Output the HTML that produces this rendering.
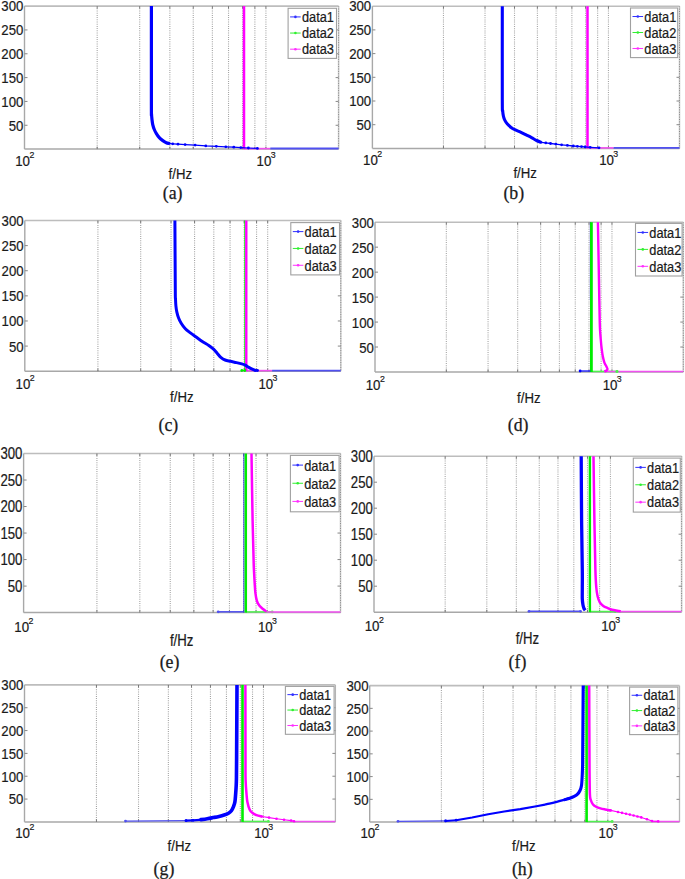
<!DOCTYPE html><html><head><meta charset="utf-8"><style>html,body{margin:0;padding:0;background:#fff;}svg{display:block;}text{font-family:"Liberation Sans",sans-serif;fill:#1a1a1a;stroke:#1a1a1a;stroke-width:0.18px;}.cap{font-family:"Liberation Serif",serif;stroke-width:0.25px;}</style></head><body>
<svg width="685" height="879" viewBox="0 0 685 879">
<rect x="0" y="0" width="685" height="879" fill="#fff"/>
<g><line x1="97.18" y1="6.10" x2="97.18" y2="149.10" stroke="#a4a4a4" stroke-width="1.1" stroke-dasharray="1 1.2"/><line x1="139.69" y1="6.10" x2="139.69" y2="149.10" stroke="#a4a4a4" stroke-width="1.1" stroke-dasharray="1 1.2"/><line x1="169.85" y1="6.10" x2="169.85" y2="149.10" stroke="#a4a4a4" stroke-width="1.1" stroke-dasharray="1 1.2"/><line x1="193.25" y1="6.10" x2="193.25" y2="149.10" stroke="#a4a4a4" stroke-width="1.1" stroke-dasharray="1 1.2"/><line x1="212.36" y1="6.10" x2="212.36" y2="149.10" stroke="#a4a4a4" stroke-width="1.1" stroke-dasharray="1 1.2"/><line x1="228.53" y1="6.10" x2="228.53" y2="149.10" stroke="#a4a4a4" stroke-width="1.1" stroke-dasharray="1 1.2"/><line x1="242.53" y1="6.10" x2="242.53" y2="149.10" stroke="#a4a4a4" stroke-width="1.1" stroke-dasharray="1 1.2"/><line x1="254.88" y1="6.10" x2="254.88" y2="149.10" stroke="#a4a4a4" stroke-width="1.1" stroke-dasharray="1 1.2"/><line x1="265.92" y1="6.10" x2="265.92" y2="149.10" stroke="#a4a4a4" stroke-width="1.1" stroke-dasharray="1 1.2"/><line x1="338.60" y1="6.10" x2="338.60" y2="149.10" stroke="#d0d0d0" stroke-width="1.6"/><line x1="338.60" y1="6.10" x2="338.60" y2="149.10" stroke="#888" stroke-width="1" stroke-dasharray="1 1.4"/><line x1="24.50" y1="6.10" x2="338.60" y2="6.10" stroke="#bdbdbd" stroke-width="1.6"/><line x1="24.50" y1="6.10" x2="24.50" y2="149.10" stroke="#a8a8a8" stroke-width="1.4"/><line x1="24.50" y1="149.10" x2="338.60" y2="149.10" stroke="#a8a8a8" stroke-width="1.5"/><line x1="24.50" y1="125.27" x2="27.50" y2="125.27" stroke="#888" stroke-width="1"/><line x1="335.60" y1="125.27" x2="338.60" y2="125.27" stroke="#888" stroke-width="1"/><line x1="24.50" y1="101.43" x2="27.50" y2="101.43" stroke="#888" stroke-width="1"/><line x1="335.60" y1="101.43" x2="338.60" y2="101.43" stroke="#888" stroke-width="1"/><line x1="24.50" y1="77.60" x2="27.50" y2="77.60" stroke="#888" stroke-width="1"/><line x1="335.60" y1="77.60" x2="338.60" y2="77.60" stroke="#888" stroke-width="1"/><line x1="24.50" y1="53.77" x2="27.50" y2="53.77" stroke="#888" stroke-width="1"/><line x1="335.60" y1="53.77" x2="338.60" y2="53.77" stroke="#888" stroke-width="1"/><line x1="24.50" y1="29.93" x2="27.50" y2="29.93" stroke="#888" stroke-width="1"/><line x1="335.60" y1="29.93" x2="338.60" y2="29.93" stroke="#888" stroke-width="1"/><line x1="97.18" y1="6.10" x2="97.18" y2="8.60" stroke="#777" stroke-width="1"/><line x1="97.18" y1="146.60" x2="97.18" y2="149.10" stroke="#777" stroke-width="1"/><line x1="139.69" y1="6.10" x2="139.69" y2="8.60" stroke="#777" stroke-width="1"/><line x1="139.69" y1="146.60" x2="139.69" y2="149.10" stroke="#777" stroke-width="1"/><line x1="169.85" y1="6.10" x2="169.85" y2="8.60" stroke="#777" stroke-width="1"/><line x1="169.85" y1="146.60" x2="169.85" y2="149.10" stroke="#777" stroke-width="1"/><line x1="193.25" y1="6.10" x2="193.25" y2="8.60" stroke="#777" stroke-width="1"/><line x1="193.25" y1="146.60" x2="193.25" y2="149.10" stroke="#777" stroke-width="1"/><line x1="212.36" y1="6.10" x2="212.36" y2="8.60" stroke="#777" stroke-width="1"/><line x1="212.36" y1="146.60" x2="212.36" y2="149.10" stroke="#777" stroke-width="1"/><line x1="228.53" y1="6.10" x2="228.53" y2="8.60" stroke="#777" stroke-width="1"/><line x1="228.53" y1="146.60" x2="228.53" y2="149.10" stroke="#777" stroke-width="1"/><line x1="242.53" y1="6.10" x2="242.53" y2="8.60" stroke="#777" stroke-width="1"/><line x1="242.53" y1="146.60" x2="242.53" y2="149.10" stroke="#777" stroke-width="1"/><line x1="254.88" y1="6.10" x2="254.88" y2="8.60" stroke="#777" stroke-width="1"/><line x1="254.88" y1="146.60" x2="254.88" y2="149.10" stroke="#777" stroke-width="1"/><line x1="265.92" y1="6.10" x2="265.92" y2="8.60" stroke="#777" stroke-width="1"/><line x1="265.92" y1="146.60" x2="265.92" y2="149.10" stroke="#777" stroke-width="1"/><text transform="translate(23.30,130.56) scale(1,1.12)" font-size="13.2" text-anchor="end">50</text><text transform="translate(23.30,106.73) scale(1,1.12)" font-size="13.2" text-anchor="end">100</text><text transform="translate(23.30,82.89) scale(1,1.12)" font-size="13.2" text-anchor="end">150</text><text transform="translate(23.30,59.06) scale(1,1.12)" font-size="13.2" text-anchor="end">200</text><text transform="translate(23.30,35.23) scale(1,1.12)" font-size="13.2" text-anchor="end">250</text><text transform="translate(23.30,11.39) scale(1,1.12)" font-size="13.2" text-anchor="end">300</text><text transform="translate(15.20,166.40) scale(1,1.08)" font-size="13.3">10</text><text transform="translate(29.40,158.40) scale(1,1.0)" font-size="8.8">2</text><text transform="translate(256.62,166.40) scale(1,1.08)" font-size="13.3">10</text><text transform="translate(270.82,158.40) scale(1,1.0)" font-size="8.8">3</text><text transform="translate(168.60,178.80) scale(1,1.12)" font-size="13.2">f/Hz</text><text transform="translate(162.80,199.40) scale(1,1.0)" font-size="17.8" class="cap">(a)</text><path d="M244.00,148.60 L270.30,148.60" fill="none" stroke="#f050f0" stroke-width="1.6" stroke-linejoin="round" stroke-linecap="butt"/><path d="M270.30,148.50 L338.60,148.50" fill="none" stroke="#5050f0" stroke-width="1.8" stroke-linejoin="round" stroke-linecap="butt"/><path d="M244.00,6.10 L244.00,149.10" fill="none" stroke="#ff00ff" stroke-width="2.5" stroke-linejoin="round" stroke-linecap="butt"/><path d="M151.40,6.10 C151.40,22.58 151.38,87.05 151.40,105.00 C151.42,122.95 151.40,111.37 151.50,113.80 C151.60,116.23 151.78,117.75 152.00,119.60 C152.22,121.45 152.42,123.25 152.80,124.90 C153.18,126.55 153.70,128.05 154.30,129.50 C154.90,130.95 155.57,132.23 156.40,133.60 C157.23,134.97 158.23,136.53 159.30,137.70 C160.37,138.87 161.63,139.77 162.80,140.60 C163.97,141.43 165.23,142.22 166.30,142.70 C167.37,143.18 168.72,143.37 169.20,143.50" fill="none" stroke="#0000ff" stroke-width="3.2" stroke-linejoin="round" stroke-linecap="butt"/><path d="M169.20,143.50 L172.70,143.80 L178.00,144.20 L185.10,144.60 L195.10,145.10 L205.80,145.90 L216.30,146.30 L225.80,146.80 L233.80,147.20 L240.80,147.60 L248.40,148.00 L257.40,148.40" fill="none" stroke="#0000ff" stroke-width="1.2" stroke-linejoin="round" stroke-linecap="butt"/><circle cx="169.20" cy="143.50" r="1.4" fill="#0000ff"/><circle cx="172.70" cy="143.80" r="1.4" fill="#0000ff"/><circle cx="178.00" cy="144.20" r="1.4" fill="#0000ff"/><circle cx="185.10" cy="144.60" r="1.4" fill="#0000ff"/><circle cx="195.10" cy="145.10" r="1.4" fill="#0000ff"/><circle cx="205.80" cy="145.90" r="1.4" fill="#0000ff"/><circle cx="216.30" cy="146.30" r="1.4" fill="#0000ff"/><circle cx="225.80" cy="146.80" r="1.4" fill="#0000ff"/><circle cx="233.80" cy="147.20" r="1.4" fill="#0000ff"/><circle cx="240.80" cy="147.60" r="1.4" fill="#0000ff"/><circle cx="248.40" cy="148.00" r="1.4" fill="#0000ff"/><circle cx="257.40" cy="148.40" r="1.4" fill="#0000ff"/><rect x="288.10" y="8.30" width="48.40" height="50.10" fill="#fff" stroke="#a0a0a0" stroke-width="1.1"/><line x1="290.10" y1="16.92" x2="300.70" y2="16.92" stroke="#3030ff" stroke-width="1"/><circle cx="295.40" cy="16.92" r="1.3" fill="#3030ff"/><text transform="translate(301.90,21.96) scale(1,1.12)" font-size="12.8">data1</text><line x1="290.10" y1="33.05" x2="300.70" y2="33.05" stroke="#30f030" stroke-width="1"/><circle cx="295.40" cy="33.05" r="1.3" fill="#30f030"/><text transform="translate(301.90,38.09) scale(1,1.12)" font-size="12.8">data2</text><line x1="290.10" y1="49.18" x2="300.70" y2="49.18" stroke="#ff30ff" stroke-width="1"/><circle cx="295.40" cy="49.18" r="1.3" fill="#ff30ff"/><text transform="translate(301.90,54.22) scale(1,1.12)" font-size="12.8">data3</text></g>
<g><line x1="443.46" y1="6.20" x2="443.46" y2="148.40" stroke="#a4a4a4" stroke-width="1.1" stroke-dasharray="1 1.2"/><line x1="485.02" y1="6.20" x2="485.02" y2="148.40" stroke="#a4a4a4" stroke-width="1.1" stroke-dasharray="1 1.2"/><line x1="514.51" y1="6.20" x2="514.51" y2="148.40" stroke="#a4a4a4" stroke-width="1.1" stroke-dasharray="1 1.2"/><line x1="537.39" y1="6.20" x2="537.39" y2="148.40" stroke="#a4a4a4" stroke-width="1.1" stroke-dasharray="1 1.2"/><line x1="556.08" y1="6.20" x2="556.08" y2="148.40" stroke="#a4a4a4" stroke-width="1.1" stroke-dasharray="1 1.2"/><line x1="571.88" y1="6.20" x2="571.88" y2="148.40" stroke="#a4a4a4" stroke-width="1.1" stroke-dasharray="1 1.2"/><line x1="585.57" y1="6.20" x2="585.57" y2="148.40" stroke="#a4a4a4" stroke-width="1.1" stroke-dasharray="1 1.2"/><line x1="597.64" y1="6.20" x2="597.64" y2="148.40" stroke="#a4a4a4" stroke-width="1.1" stroke-dasharray="1 1.2"/><line x1="608.44" y1="6.20" x2="608.44" y2="148.40" stroke="#a4a4a4" stroke-width="1.1" stroke-dasharray="1 1.2"/><line x1="679.50" y1="6.20" x2="679.50" y2="148.40" stroke="#d0d0d0" stroke-width="1.6"/><line x1="679.50" y1="6.20" x2="679.50" y2="148.40" stroke="#888" stroke-width="1" stroke-dasharray="1 1.4"/><line x1="372.40" y1="6.20" x2="679.50" y2="6.20" stroke="#bdbdbd" stroke-width="1.6"/><line x1="372.40" y1="6.20" x2="372.40" y2="148.40" stroke="#a8a8a8" stroke-width="1.4"/><line x1="372.40" y1="148.40" x2="679.50" y2="148.40" stroke="#a8a8a8" stroke-width="1.5"/><line x1="372.40" y1="124.70" x2="375.40" y2="124.70" stroke="#888" stroke-width="1"/><line x1="676.50" y1="124.70" x2="679.50" y2="124.70" stroke="#888" stroke-width="1"/><line x1="372.40" y1="101.00" x2="375.40" y2="101.00" stroke="#888" stroke-width="1"/><line x1="676.50" y1="101.00" x2="679.50" y2="101.00" stroke="#888" stroke-width="1"/><line x1="372.40" y1="77.30" x2="375.40" y2="77.30" stroke="#888" stroke-width="1"/><line x1="676.50" y1="77.30" x2="679.50" y2="77.30" stroke="#888" stroke-width="1"/><line x1="372.40" y1="53.60" x2="375.40" y2="53.60" stroke="#888" stroke-width="1"/><line x1="676.50" y1="53.60" x2="679.50" y2="53.60" stroke="#888" stroke-width="1"/><line x1="372.40" y1="29.90" x2="375.40" y2="29.90" stroke="#888" stroke-width="1"/><line x1="676.50" y1="29.90" x2="679.50" y2="29.90" stroke="#888" stroke-width="1"/><line x1="443.46" y1="6.20" x2="443.46" y2="8.70" stroke="#777" stroke-width="1"/><line x1="443.46" y1="145.90" x2="443.46" y2="148.40" stroke="#777" stroke-width="1"/><line x1="485.02" y1="6.20" x2="485.02" y2="8.70" stroke="#777" stroke-width="1"/><line x1="485.02" y1="145.90" x2="485.02" y2="148.40" stroke="#777" stroke-width="1"/><line x1="514.51" y1="6.20" x2="514.51" y2="8.70" stroke="#777" stroke-width="1"/><line x1="514.51" y1="145.90" x2="514.51" y2="148.40" stroke="#777" stroke-width="1"/><line x1="537.39" y1="6.20" x2="537.39" y2="8.70" stroke="#777" stroke-width="1"/><line x1="537.39" y1="145.90" x2="537.39" y2="148.40" stroke="#777" stroke-width="1"/><line x1="556.08" y1="6.20" x2="556.08" y2="8.70" stroke="#777" stroke-width="1"/><line x1="556.08" y1="145.90" x2="556.08" y2="148.40" stroke="#777" stroke-width="1"/><line x1="571.88" y1="6.20" x2="571.88" y2="8.70" stroke="#777" stroke-width="1"/><line x1="571.88" y1="145.90" x2="571.88" y2="148.40" stroke="#777" stroke-width="1"/><line x1="585.57" y1="6.20" x2="585.57" y2="8.70" stroke="#777" stroke-width="1"/><line x1="585.57" y1="145.90" x2="585.57" y2="148.40" stroke="#777" stroke-width="1"/><line x1="597.64" y1="6.20" x2="597.64" y2="8.70" stroke="#777" stroke-width="1"/><line x1="597.64" y1="145.90" x2="597.64" y2="148.40" stroke="#777" stroke-width="1"/><line x1="608.44" y1="6.20" x2="608.44" y2="8.70" stroke="#777" stroke-width="1"/><line x1="608.44" y1="145.90" x2="608.44" y2="148.40" stroke="#777" stroke-width="1"/><text transform="translate(371.20,129.99) scale(1,1.12)" font-size="13.2" text-anchor="end">50</text><text transform="translate(371.20,106.29) scale(1,1.12)" font-size="13.2" text-anchor="end">100</text><text transform="translate(371.20,82.59) scale(1,1.12)" font-size="13.2" text-anchor="end">150</text><text transform="translate(371.20,58.89) scale(1,1.12)" font-size="13.2" text-anchor="end">200</text><text transform="translate(371.20,35.19) scale(1,1.12)" font-size="13.2" text-anchor="end">250</text><text transform="translate(371.20,11.49) scale(1,1.12)" font-size="13.2" text-anchor="end">300</text><text transform="translate(363.10,165.30) scale(1,1.08)" font-size="13.3">10</text><text transform="translate(377.30,157.30) scale(1,1.0)" font-size="8.8">2</text><text transform="translate(599.14,165.30) scale(1,1.08)" font-size="13.3">10</text><text transform="translate(613.34,157.30) scale(1,1.0)" font-size="8.8">3</text><text transform="translate(513.40,177.90) scale(1,1.12)" font-size="13.2">f/Hz</text><text transform="translate(503.40,199.40) scale(1,1.0)" font-size="17.8" class="cap">(b)</text><path d="M587.50,147.90 L613.60,147.90" fill="none" stroke="#f050f0" stroke-width="1.6" stroke-linejoin="round" stroke-linecap="butt"/><path d="M613.60,147.80 L679.50,147.80" fill="none" stroke="#5050f0" stroke-width="1.8" stroke-linejoin="round" stroke-linecap="butt"/><path d="M587.50,6.20 L587.50,148.40" fill="none" stroke="#ff00ff" stroke-width="2.5" stroke-linejoin="round" stroke-linecap="butt"/><path d="M502.30,6.20 C502.30,21.83 502.23,82.55 502.30,100.00 C502.37,117.45 502.52,108.22 502.70,110.90 C502.88,113.58 503.03,114.52 503.40,116.10 C503.77,117.68 504.23,119.07 504.90,120.40 C505.57,121.73 506.37,122.93 507.40,124.10 C508.43,125.27 509.77,126.43 511.10,127.40 C512.43,128.37 513.83,129.12 515.40,129.90 C516.97,130.68 518.78,131.30 520.50,132.10 C522.22,132.90 523.87,133.78 525.70,134.70 C527.53,135.62 529.68,136.63 531.50,137.60 C533.32,138.57 535.02,139.72 536.60,140.50 C538.18,141.28 540.27,142.00 541.00,142.30" fill="none" stroke="#0000ff" stroke-width="3.1" stroke-linejoin="round" stroke-linecap="butt"/><path d="M541.00,142.30 L545.80,142.90 L550.50,143.50 L555.80,144.10 L561.60,144.80 L567.40,145.40 L573.30,146.00 L577.40,146.30 L581.50,146.60 L585.00,146.90 L590.20,147.30 L599.00,147.80" fill="none" stroke="#0000ff" stroke-width="1.3" stroke-linejoin="round" stroke-linecap="butt"/><circle cx="541.00" cy="142.30" r="1.4" fill="#0000ff"/><circle cx="545.80" cy="142.90" r="1.4" fill="#0000ff"/><circle cx="550.50" cy="143.50" r="1.4" fill="#0000ff"/><circle cx="555.80" cy="144.10" r="1.4" fill="#0000ff"/><circle cx="561.60" cy="144.80" r="1.4" fill="#0000ff"/><circle cx="567.40" cy="145.40" r="1.4" fill="#0000ff"/><circle cx="573.30" cy="146.00" r="1.4" fill="#0000ff"/><circle cx="577.40" cy="146.30" r="1.4" fill="#0000ff"/><circle cx="581.50" cy="146.60" r="1.4" fill="#0000ff"/><circle cx="585.00" cy="146.90" r="1.4" fill="#0000ff"/><circle cx="590.20" cy="147.30" r="1.4" fill="#0000ff"/><circle cx="599.00" cy="147.80" r="1.4" fill="#0000ff"/><rect x="630.50" y="8.00" width="47.20" height="49.60" fill="#fff" stroke="#a0a0a0" stroke-width="1.1"/><line x1="632.50" y1="16.53" x2="643.10" y2="16.53" stroke="#3030ff" stroke-width="1"/><circle cx="637.80" cy="16.53" r="1.3" fill="#3030ff"/><text transform="translate(644.30,21.57) scale(1,1.12)" font-size="12.8">data1</text><line x1="632.50" y1="32.50" x2="643.10" y2="32.50" stroke="#30f030" stroke-width="1"/><circle cx="637.80" cy="32.50" r="1.3" fill="#30f030"/><text transform="translate(644.30,37.54) scale(1,1.12)" font-size="12.8">data2</text><line x1="632.50" y1="48.47" x2="643.10" y2="48.47" stroke="#ff30ff" stroke-width="1"/><circle cx="637.80" cy="48.47" r="1.3" fill="#ff30ff"/><text transform="translate(644.30,53.51) scale(1,1.12)" font-size="12.8">data3</text></g>
<g><line x1="97.92" y1="220.50" x2="97.92" y2="371.20" stroke="#a4a4a4" stroke-width="1.1" stroke-dasharray="1 1.2"/><line x1="140.69" y1="220.50" x2="140.69" y2="371.20" stroke="#a4a4a4" stroke-width="1.1" stroke-dasharray="1 1.2"/><line x1="171.03" y1="220.50" x2="171.03" y2="371.20" stroke="#a4a4a4" stroke-width="1.1" stroke-dasharray="1 1.2"/><line x1="194.57" y1="220.50" x2="194.57" y2="371.20" stroke="#a4a4a4" stroke-width="1.1" stroke-dasharray="1 1.2"/><line x1="213.80" y1="220.50" x2="213.80" y2="371.20" stroke="#a4a4a4" stroke-width="1.1" stroke-dasharray="1 1.2"/><line x1="230.06" y1="220.50" x2="230.06" y2="371.20" stroke="#a4a4a4" stroke-width="1.1" stroke-dasharray="1 1.2"/><line x1="244.15" y1="220.50" x2="244.15" y2="371.20" stroke="#a4a4a4" stroke-width="1.1" stroke-dasharray="1 1.2"/><line x1="256.57" y1="220.50" x2="256.57" y2="371.20" stroke="#a4a4a4" stroke-width="1.1" stroke-dasharray="1 1.2"/><line x1="267.68" y1="220.50" x2="267.68" y2="371.20" stroke="#a4a4a4" stroke-width="1.1" stroke-dasharray="1 1.2"/><line x1="340.80" y1="220.50" x2="340.80" y2="371.20" stroke="#d0d0d0" stroke-width="1.6"/><line x1="340.80" y1="220.50" x2="340.80" y2="371.20" stroke="#888" stroke-width="1" stroke-dasharray="1 1.4"/><line x1="24.80" y1="220.50" x2="340.80" y2="220.50" stroke="#bdbdbd" stroke-width="1.6"/><line x1="24.80" y1="220.50" x2="24.80" y2="371.20" stroke="#a8a8a8" stroke-width="1.4"/><line x1="24.80" y1="371.20" x2="340.80" y2="371.20" stroke="#a8a8a8" stroke-width="1.5"/><line x1="24.80" y1="346.08" x2="27.80" y2="346.08" stroke="#888" stroke-width="1"/><line x1="337.80" y1="346.08" x2="340.80" y2="346.08" stroke="#888" stroke-width="1"/><line x1="24.80" y1="320.97" x2="27.80" y2="320.97" stroke="#888" stroke-width="1"/><line x1="337.80" y1="320.97" x2="340.80" y2="320.97" stroke="#888" stroke-width="1"/><line x1="24.80" y1="295.85" x2="27.80" y2="295.85" stroke="#888" stroke-width="1"/><line x1="337.80" y1="295.85" x2="340.80" y2="295.85" stroke="#888" stroke-width="1"/><line x1="24.80" y1="270.73" x2="27.80" y2="270.73" stroke="#888" stroke-width="1"/><line x1="337.80" y1="270.73" x2="340.80" y2="270.73" stroke="#888" stroke-width="1"/><line x1="24.80" y1="245.62" x2="27.80" y2="245.62" stroke="#888" stroke-width="1"/><line x1="337.80" y1="245.62" x2="340.80" y2="245.62" stroke="#888" stroke-width="1"/><line x1="97.92" y1="220.50" x2="97.92" y2="223.00" stroke="#777" stroke-width="1"/><line x1="97.92" y1="368.70" x2="97.92" y2="371.20" stroke="#777" stroke-width="1"/><line x1="140.69" y1="220.50" x2="140.69" y2="223.00" stroke="#777" stroke-width="1"/><line x1="140.69" y1="368.70" x2="140.69" y2="371.20" stroke="#777" stroke-width="1"/><line x1="171.03" y1="220.50" x2="171.03" y2="223.00" stroke="#777" stroke-width="1"/><line x1="171.03" y1="368.70" x2="171.03" y2="371.20" stroke="#777" stroke-width="1"/><line x1="194.57" y1="220.50" x2="194.57" y2="223.00" stroke="#777" stroke-width="1"/><line x1="194.57" y1="368.70" x2="194.57" y2="371.20" stroke="#777" stroke-width="1"/><line x1="213.80" y1="220.50" x2="213.80" y2="223.00" stroke="#777" stroke-width="1"/><line x1="213.80" y1="368.70" x2="213.80" y2="371.20" stroke="#777" stroke-width="1"/><line x1="230.06" y1="220.50" x2="230.06" y2="223.00" stroke="#777" stroke-width="1"/><line x1="230.06" y1="368.70" x2="230.06" y2="371.20" stroke="#777" stroke-width="1"/><line x1="244.15" y1="220.50" x2="244.15" y2="223.00" stroke="#777" stroke-width="1"/><line x1="244.15" y1="368.70" x2="244.15" y2="371.20" stroke="#777" stroke-width="1"/><line x1="256.57" y1="220.50" x2="256.57" y2="223.00" stroke="#777" stroke-width="1"/><line x1="256.57" y1="368.70" x2="256.57" y2="371.20" stroke="#777" stroke-width="1"/><line x1="267.68" y1="220.50" x2="267.68" y2="223.00" stroke="#777" stroke-width="1"/><line x1="267.68" y1="368.70" x2="267.68" y2="371.20" stroke="#777" stroke-width="1"/><text transform="translate(23.60,351.57) scale(1,1.16)" font-size="13.2" text-anchor="end">50</text><text transform="translate(23.60,326.45) scale(1,1.16)" font-size="13.2" text-anchor="end">100</text><text transform="translate(23.60,301.33) scale(1,1.16)" font-size="13.2" text-anchor="end">150</text><text transform="translate(23.60,276.22) scale(1,1.16)" font-size="13.2" text-anchor="end">200</text><text transform="translate(23.60,251.10) scale(1,1.16)" font-size="13.2" text-anchor="end">250</text><text transform="translate(23.60,225.98) scale(1,1.16)" font-size="13.2" text-anchor="end">300</text><text transform="translate(15.50,389.20) scale(1,1.08)" font-size="13.3">10</text><text transform="translate(29.70,381.20) scale(1,1.0)" font-size="8.8">2</text><text transform="translate(258.38,389.20) scale(1,1.08)" font-size="13.3">10</text><text transform="translate(272.58,381.20) scale(1,1.0)" font-size="8.8">3</text><text transform="translate(170.10,401.90) scale(1,1.16)" font-size="13.2">f/Hz</text><text transform="translate(158.50,431.00) scale(1,1.0)" font-size="17.8" class="cap">(c)</text><path d="M244.80,220.50 L244.80,371.20" fill="none" stroke="#00ee00" stroke-width="1.0" stroke-linejoin="round" stroke-linecap="butt"/><path d="M246.30,370.60 L272.10,370.60" fill="none" stroke="#f050f0" stroke-width="1.6" stroke-linejoin="round" stroke-linecap="butt"/><path d="M272.10,370.60 L340.80,370.60" fill="none" stroke="#5050f0" stroke-width="1.8" stroke-linejoin="round" stroke-linecap="butt"/><path d="M246.30,220.50 L246.30,371.20" fill="none" stroke="#ff00ff" stroke-width="2.4" stroke-linejoin="round" stroke-linecap="butt"/><path d="M174.90,220.50 C174.97,232.08 175.20,276.95 175.30,290.00 C175.40,303.05 175.40,296.17 175.50,298.80 C175.60,301.43 175.68,303.62 175.90,305.80 C176.12,307.98 176.35,309.87 176.80,311.90 C177.25,313.93 177.87,316.10 178.60,318.00 C179.33,319.90 180.12,321.55 181.20,323.30 C182.28,325.05 183.57,326.90 185.10,328.50 C186.63,330.10 188.50,331.43 190.40,332.90 C192.30,334.37 194.45,335.83 196.50,337.30 C198.55,338.77 200.65,340.33 202.70,341.70 C204.75,343.07 206.95,344.22 208.80,345.50 C210.65,346.78 212.38,348.08 213.80,349.40 C215.22,350.72 216.13,352.08 217.30,353.40 C218.47,354.72 219.50,356.20 220.80,357.30 C222.10,358.40 223.50,359.33 225.10,360.00 C226.70,360.67 228.50,360.87 230.40,361.30 C232.30,361.73 234.60,362.17 236.50,362.60 C238.40,363.03 240.33,363.47 241.80,363.90 C243.27,364.33 244.13,364.62 245.30,365.20 C246.47,365.78 247.63,366.73 248.80,367.40 C249.97,368.07 251.13,368.68 252.30,369.20 C253.47,369.72 255.22,370.28 255.80,370.50" fill="none" stroke="#0000ff" stroke-width="3.0" stroke-linejoin="round" stroke-linecap="butt"/><path d="M255.80,370.50 L257.50,370.50" fill="none" stroke="#0000ff" stroke-width="1.2" stroke-linejoin="round" stroke-linecap="butt"/><circle cx="255.80" cy="370.50" r="1.4" fill="#0000ff"/><circle cx="257.50" cy="370.50" r="1.4" fill="#0000ff"/><path d="M241.80,370.50 L244.80,370.50" fill="none" stroke="#00ee00" stroke-width="1.0" stroke-linejoin="round" stroke-linecap="butt"/><circle cx="241.80" cy="370.50" r="1.4" fill="#00ee00"/><circle cx="244.80" cy="370.50" r="1.4" fill="#00ee00"/><rect x="290.80" y="222.60" width="48.70" height="52.30" fill="#fff" stroke="#a0a0a0" stroke-width="1.1"/><line x1="292.80" y1="231.60" x2="303.40" y2="231.60" stroke="#3030ff" stroke-width="1"/><circle cx="298.10" cy="231.60" r="1.3" fill="#3030ff"/><text transform="translate(304.60,236.82) scale(1,1.16)" font-size="12.8">data1</text><line x1="292.80" y1="248.44" x2="303.40" y2="248.44" stroke="#30f030" stroke-width="1"/><circle cx="298.10" cy="248.44" r="1.3" fill="#30f030"/><text transform="translate(304.60,253.66) scale(1,1.16)" font-size="12.8">data2</text><line x1="292.80" y1="265.28" x2="303.40" y2="265.28" stroke="#ff30ff" stroke-width="1"/><circle cx="298.10" cy="265.28" r="1.3" fill="#ff30ff"/><text transform="translate(304.60,270.50) scale(1,1.16)" font-size="12.8">data3</text></g>
<g><line x1="446.33" y1="222.20" x2="446.33" y2="372.00" stroke="#a4a4a4" stroke-width="1.1" stroke-dasharray="1 1.2"/><line x1="488.06" y1="222.20" x2="488.06" y2="372.00" stroke="#a4a4a4" stroke-width="1.1" stroke-dasharray="1 1.2"/><line x1="517.67" y1="222.20" x2="517.67" y2="372.00" stroke="#a4a4a4" stroke-width="1.1" stroke-dasharray="1 1.2"/><line x1="540.63" y1="222.20" x2="540.63" y2="372.00" stroke="#a4a4a4" stroke-width="1.1" stroke-dasharray="1 1.2"/><line x1="559.40" y1="222.20" x2="559.40" y2="372.00" stroke="#a4a4a4" stroke-width="1.1" stroke-dasharray="1 1.2"/><line x1="575.26" y1="222.20" x2="575.26" y2="372.00" stroke="#a4a4a4" stroke-width="1.1" stroke-dasharray="1 1.2"/><line x1="589.00" y1="222.20" x2="589.00" y2="372.00" stroke="#a4a4a4" stroke-width="1.1" stroke-dasharray="1 1.2"/><line x1="601.12" y1="222.20" x2="601.12" y2="372.00" stroke="#a4a4a4" stroke-width="1.1" stroke-dasharray="1 1.2"/><line x1="611.97" y1="222.20" x2="611.97" y2="372.00" stroke="#a4a4a4" stroke-width="1.1" stroke-dasharray="1 1.2"/><line x1="683.30" y1="222.20" x2="683.30" y2="372.00" stroke="#d0d0d0" stroke-width="1.6"/><line x1="683.30" y1="222.20" x2="683.30" y2="372.00" stroke="#888" stroke-width="1" stroke-dasharray="1 1.4"/><line x1="375.00" y1="222.20" x2="683.30" y2="222.20" stroke="#bdbdbd" stroke-width="1.6"/><line x1="375.00" y1="222.20" x2="375.00" y2="372.00" stroke="#a8a8a8" stroke-width="1.4"/><line x1="375.00" y1="372.00" x2="683.30" y2="372.00" stroke="#a8a8a8" stroke-width="1.5"/><line x1="375.00" y1="347.03" x2="378.00" y2="347.03" stroke="#888" stroke-width="1"/><line x1="680.30" y1="347.03" x2="683.30" y2="347.03" stroke="#888" stroke-width="1"/><line x1="375.00" y1="322.07" x2="378.00" y2="322.07" stroke="#888" stroke-width="1"/><line x1="680.30" y1="322.07" x2="683.30" y2="322.07" stroke="#888" stroke-width="1"/><line x1="375.00" y1="297.10" x2="378.00" y2="297.10" stroke="#888" stroke-width="1"/><line x1="680.30" y1="297.10" x2="683.30" y2="297.10" stroke="#888" stroke-width="1"/><line x1="375.00" y1="272.13" x2="378.00" y2="272.13" stroke="#888" stroke-width="1"/><line x1="680.30" y1="272.13" x2="683.30" y2="272.13" stroke="#888" stroke-width="1"/><line x1="375.00" y1="247.17" x2="378.00" y2="247.17" stroke="#888" stroke-width="1"/><line x1="680.30" y1="247.17" x2="683.30" y2="247.17" stroke="#888" stroke-width="1"/><line x1="446.33" y1="222.20" x2="446.33" y2="224.70" stroke="#777" stroke-width="1"/><line x1="446.33" y1="369.50" x2="446.33" y2="372.00" stroke="#777" stroke-width="1"/><line x1="488.06" y1="222.20" x2="488.06" y2="224.70" stroke="#777" stroke-width="1"/><line x1="488.06" y1="369.50" x2="488.06" y2="372.00" stroke="#777" stroke-width="1"/><line x1="517.67" y1="222.20" x2="517.67" y2="224.70" stroke="#777" stroke-width="1"/><line x1="517.67" y1="369.50" x2="517.67" y2="372.00" stroke="#777" stroke-width="1"/><line x1="540.63" y1="222.20" x2="540.63" y2="224.70" stroke="#777" stroke-width="1"/><line x1="540.63" y1="369.50" x2="540.63" y2="372.00" stroke="#777" stroke-width="1"/><line x1="559.40" y1="222.20" x2="559.40" y2="224.70" stroke="#777" stroke-width="1"/><line x1="559.40" y1="369.50" x2="559.40" y2="372.00" stroke="#777" stroke-width="1"/><line x1="575.26" y1="222.20" x2="575.26" y2="224.70" stroke="#777" stroke-width="1"/><line x1="575.26" y1="369.50" x2="575.26" y2="372.00" stroke="#777" stroke-width="1"/><line x1="589.00" y1="222.20" x2="589.00" y2="224.70" stroke="#777" stroke-width="1"/><line x1="589.00" y1="369.50" x2="589.00" y2="372.00" stroke="#777" stroke-width="1"/><line x1="601.12" y1="222.20" x2="601.12" y2="224.70" stroke="#777" stroke-width="1"/><line x1="601.12" y1="369.50" x2="601.12" y2="372.00" stroke="#777" stroke-width="1"/><line x1="611.97" y1="222.20" x2="611.97" y2="224.70" stroke="#777" stroke-width="1"/><line x1="611.97" y1="369.50" x2="611.97" y2="372.00" stroke="#777" stroke-width="1"/><text transform="translate(373.80,352.52) scale(1,1.16)" font-size="13.2" text-anchor="end">50</text><text transform="translate(373.80,327.55) scale(1,1.16)" font-size="13.2" text-anchor="end">100</text><text transform="translate(373.80,302.58) scale(1,1.16)" font-size="13.2" text-anchor="end">150</text><text transform="translate(373.80,277.62) scale(1,1.16)" font-size="13.2" text-anchor="end">200</text><text transform="translate(373.80,252.65) scale(1,1.16)" font-size="13.2" text-anchor="end">250</text><text transform="translate(373.80,227.68) scale(1,1.16)" font-size="13.2" text-anchor="end">300</text><text transform="translate(365.70,389.60) scale(1,1.08)" font-size="13.3">10</text><text transform="translate(379.90,381.60) scale(1,1.0)" font-size="8.8">2</text><text transform="translate(602.67,389.60) scale(1,1.08)" font-size="13.3">10</text><text transform="translate(616.87,381.60) scale(1,1.0)" font-size="8.8">3</text><text transform="translate(517.10,402.90) scale(1,1.16)" font-size="13.2">f/Hz</text><text transform="translate(507.80,431.20) scale(1,1.0)" font-size="17.8" class="cap">(d)</text><path d="M590.40,222.20 L590.40,300.00" fill="none" stroke="#0000ff" stroke-width="1.0" stroke-linejoin="round" stroke-linecap="butt"/><path d="M591.40,371.40 L617.00,371.40" fill="none" stroke="#50f050" stroke-width="1.5" stroke-linejoin="round" stroke-linecap="butt"/><path d="M604.40,371.60 L683.30,371.60" fill="none" stroke="#f050f0" stroke-width="1.5" stroke-linejoin="round" stroke-linecap="butt"/><path d="M591.40,222.20 L591.40,372.00" fill="none" stroke="#00ee00" stroke-width="2.8" stroke-linejoin="round" stroke-linecap="butt"/><path d="M597.90,222.20 C598.02,228.50 598.37,247.03 598.60,260.00 C598.83,272.97 599.12,290.00 599.30,300.00 C599.48,310.00 599.58,315.10 599.70,320.00 C599.82,324.90 599.83,326.27 600.00,329.40 C600.17,332.53 600.43,335.67 600.70,338.80 C600.97,341.93 601.25,345.28 601.60,348.20 C601.95,351.12 602.33,353.90 602.80,356.30 C603.27,358.70 603.82,360.93 604.40,362.60 C604.98,364.27 605.78,365.22 606.30,366.30 C606.82,367.38 607.55,368.37 607.50,369.10 C607.45,369.83 606.52,370.28 606.00,370.70 C605.48,371.12 604.67,371.45 604.40,371.60" fill="none" stroke="#ff00ff" stroke-width="2.4" stroke-linejoin="round" stroke-linecap="butt"/><path d="M580.10,371.00 L590.40,371.00" fill="none" stroke="#0000ff" stroke-width="1.2" stroke-linejoin="round" stroke-linecap="butt"/><circle cx="580.10" cy="371.00" r="1.4" fill="#0000ff"/><path d="M617.00,371.40 L617.00,371.40" fill="none" stroke="#50f050" stroke-width="1.0" stroke-linejoin="round" stroke-linecap="butt"/><circle cx="617.00" cy="371.40" r="1.4" fill="#50f050"/><circle cx="617.00" cy="371.40" r="1.4" fill="#50f050"/><rect x="635.50" y="223.40" width="46.60" height="52.60" fill="#fff" stroke="#a0a0a0" stroke-width="1.1"/><line x1="637.50" y1="232.45" x2="648.10" y2="232.45" stroke="#3030ff" stroke-width="1"/><circle cx="642.80" cy="232.45" r="1.3" fill="#3030ff"/><text transform="translate(649.30,237.67) scale(1,1.16)" font-size="12.8">data1</text><line x1="637.50" y1="249.38" x2="648.10" y2="249.38" stroke="#30f030" stroke-width="1"/><circle cx="642.80" cy="249.38" r="1.3" fill="#30f030"/><text transform="translate(649.30,254.60) scale(1,1.16)" font-size="12.8">data2</text><line x1="637.50" y1="266.32" x2="648.10" y2="266.32" stroke="#ff30ff" stroke-width="1"/><circle cx="642.80" cy="266.32" r="1.3" fill="#ff30ff"/><text transform="translate(649.30,271.54) scale(1,1.16)" font-size="12.8">data3</text></g>
<g><line x1="96.92" y1="453.50" x2="96.92" y2="612.60" stroke="#a4a4a4" stroke-width="1.1" stroke-dasharray="1 1.2"/><line x1="139.82" y1="453.50" x2="139.82" y2="612.60" stroke="#a4a4a4" stroke-width="1.1" stroke-dasharray="1 1.2"/><line x1="170.25" y1="453.50" x2="170.25" y2="612.60" stroke="#a4a4a4" stroke-width="1.1" stroke-dasharray="1 1.2"/><line x1="193.85" y1="453.50" x2="193.85" y2="612.60" stroke="#a4a4a4" stroke-width="1.1" stroke-dasharray="1 1.2"/><line x1="213.14" y1="453.50" x2="213.14" y2="612.60" stroke="#a4a4a4" stroke-width="1.1" stroke-dasharray="1 1.2"/><line x1="229.45" y1="453.50" x2="229.45" y2="612.60" stroke="#a4a4a4" stroke-width="1.1" stroke-dasharray="1 1.2"/><line x1="243.57" y1="453.50" x2="243.57" y2="612.60" stroke="#a4a4a4" stroke-width="1.1" stroke-dasharray="1 1.2"/><line x1="256.03" y1="453.50" x2="256.03" y2="612.60" stroke="#a4a4a4" stroke-width="1.1" stroke-dasharray="1 1.2"/><line x1="267.18" y1="453.50" x2="267.18" y2="612.60" stroke="#a4a4a4" stroke-width="1.1" stroke-dasharray="1 1.2"/><line x1="340.50" y1="453.50" x2="340.50" y2="612.60" stroke="#d0d0d0" stroke-width="1.6"/><line x1="340.50" y1="453.50" x2="340.50" y2="612.60" stroke="#888" stroke-width="1" stroke-dasharray="1 1.4"/><line x1="23.60" y1="453.50" x2="340.50" y2="453.50" stroke="#bdbdbd" stroke-width="1.6"/><line x1="23.60" y1="453.50" x2="23.60" y2="612.60" stroke="#a8a8a8" stroke-width="1.4"/><line x1="23.60" y1="612.60" x2="340.50" y2="612.60" stroke="#a8a8a8" stroke-width="1.5"/><line x1="23.60" y1="586.08" x2="26.60" y2="586.08" stroke="#888" stroke-width="1"/><line x1="337.50" y1="586.08" x2="340.50" y2="586.08" stroke="#888" stroke-width="1"/><line x1="23.60" y1="559.57" x2="26.60" y2="559.57" stroke="#888" stroke-width="1"/><line x1="337.50" y1="559.57" x2="340.50" y2="559.57" stroke="#888" stroke-width="1"/><line x1="23.60" y1="533.05" x2="26.60" y2="533.05" stroke="#888" stroke-width="1"/><line x1="337.50" y1="533.05" x2="340.50" y2="533.05" stroke="#888" stroke-width="1"/><line x1="23.60" y1="506.53" x2="26.60" y2="506.53" stroke="#888" stroke-width="1"/><line x1="337.50" y1="506.53" x2="340.50" y2="506.53" stroke="#888" stroke-width="1"/><line x1="23.60" y1="480.02" x2="26.60" y2="480.02" stroke="#888" stroke-width="1"/><line x1="337.50" y1="480.02" x2="340.50" y2="480.02" stroke="#888" stroke-width="1"/><line x1="96.92" y1="453.50" x2="96.92" y2="456.00" stroke="#777" stroke-width="1"/><line x1="96.92" y1="610.10" x2="96.92" y2="612.60" stroke="#777" stroke-width="1"/><line x1="139.82" y1="453.50" x2="139.82" y2="456.00" stroke="#777" stroke-width="1"/><line x1="139.82" y1="610.10" x2="139.82" y2="612.60" stroke="#777" stroke-width="1"/><line x1="170.25" y1="453.50" x2="170.25" y2="456.00" stroke="#777" stroke-width="1"/><line x1="170.25" y1="610.10" x2="170.25" y2="612.60" stroke="#777" stroke-width="1"/><line x1="193.85" y1="453.50" x2="193.85" y2="456.00" stroke="#777" stroke-width="1"/><line x1="193.85" y1="610.10" x2="193.85" y2="612.60" stroke="#777" stroke-width="1"/><line x1="213.14" y1="453.50" x2="213.14" y2="456.00" stroke="#777" stroke-width="1"/><line x1="213.14" y1="610.10" x2="213.14" y2="612.60" stroke="#777" stroke-width="1"/><line x1="229.45" y1="453.50" x2="229.45" y2="456.00" stroke="#777" stroke-width="1"/><line x1="229.45" y1="610.10" x2="229.45" y2="612.60" stroke="#777" stroke-width="1"/><line x1="243.57" y1="453.50" x2="243.57" y2="456.00" stroke="#777" stroke-width="1"/><line x1="243.57" y1="610.10" x2="243.57" y2="612.60" stroke="#777" stroke-width="1"/><line x1="256.03" y1="453.50" x2="256.03" y2="456.00" stroke="#777" stroke-width="1"/><line x1="256.03" y1="610.10" x2="256.03" y2="612.60" stroke="#777" stroke-width="1"/><line x1="267.18" y1="453.50" x2="267.18" y2="456.00" stroke="#777" stroke-width="1"/><line x1="267.18" y1="610.10" x2="267.18" y2="612.60" stroke="#777" stroke-width="1"/><text transform="translate(22.40,591.75) scale(1,1.2)" font-size="13.2" text-anchor="end">50</text><text transform="translate(22.40,565.24) scale(1,1.2)" font-size="13.2" text-anchor="end">100</text><text transform="translate(22.40,538.72) scale(1,1.2)" font-size="13.2" text-anchor="end">150</text><text transform="translate(22.40,512.20) scale(1,1.2)" font-size="13.2" text-anchor="end">200</text><text transform="translate(22.40,485.69) scale(1,1.2)" font-size="13.2" text-anchor="end">250</text><text transform="translate(22.40,459.17) scale(1,1.2)" font-size="13.2" text-anchor="end">300</text><text transform="translate(14.30,631.80) scale(1,1.08)" font-size="13.3">10</text><text transform="translate(28.50,623.80) scale(1,1.0)" font-size="8.8">2</text><text transform="translate(257.88,631.80) scale(1,1.08)" font-size="13.3">10</text><text transform="translate(272.08,623.80) scale(1,1.0)" font-size="8.8">3</text><text transform="translate(169.90,645.60) scale(1,1.2)" font-size="13.2">f/Hz</text><text transform="translate(159.70,668.30) scale(1,1.0)" font-size="17.8" class="cap">(e)</text><path d="M218.20,611.80 L243.60,611.80" fill="none" stroke="#5050f0" stroke-width="1.5" stroke-linejoin="round" stroke-linecap="butt"/><circle cx="218.20" cy="611.80" r="1.4" fill="#5050f0"/><path d="M245.80,611.90 L272.20,611.90" fill="none" stroke="#50f050" stroke-width="1.5" stroke-linejoin="round" stroke-linecap="butt"/><circle cx="272.20" cy="611.90" r="1.4" fill="#50f050"/><path d="M266.40,612.00 L340.50,612.00" fill="none" stroke="#f050f0" stroke-width="1.5" stroke-linejoin="round" stroke-linecap="butt"/><path d="M243.90,453.50 L243.90,612.60" fill="none" stroke="#3030e0" stroke-width="1.0" stroke-linejoin="round" stroke-linecap="butt"/><path d="M245.80,453.50 L245.80,612.60" fill="none" stroke="#00ee00" stroke-width="2.5" stroke-linejoin="round" stroke-linecap="butt"/><path d="M251.50,453.50 C251.68,464.58 252.25,502.25 252.60,520.00 C252.95,537.75 253.37,551.50 253.60,560.00 C253.83,568.50 253.83,567.35 254.00,571.00 C254.17,574.65 254.37,578.27 254.60,581.90 C254.83,585.53 255.02,589.63 255.40,592.80 C255.78,595.97 256.28,598.82 256.90,600.90 C257.52,602.98 258.25,604.08 259.10,605.30 C259.95,606.52 261.03,607.35 262.00,608.20 C262.97,609.05 264.17,609.85 264.90,610.40 C265.63,610.95 266.15,611.32 266.40,611.50" fill="none" stroke="#ff00ff" stroke-width="2.5" stroke-linejoin="round" stroke-linecap="butt"/><rect x="290.40" y="455.40" width="48.70" height="56.40" fill="#fff" stroke="#a0a0a0" stroke-width="1.1"/><line x1="292.40" y1="465.10" x2="303.00" y2="465.10" stroke="#3030ff" stroke-width="1"/><circle cx="297.70" cy="465.10" r="1.3" fill="#3030ff"/><text transform="translate(304.20,470.50) scale(1,1.2)" font-size="12.8">data1</text><line x1="292.40" y1="483.26" x2="303.00" y2="483.26" stroke="#30f030" stroke-width="1"/><circle cx="297.70" cy="483.26" r="1.3" fill="#30f030"/><text transform="translate(304.20,488.66) scale(1,1.2)" font-size="12.8">data2</text><line x1="292.40" y1="501.42" x2="303.00" y2="501.42" stroke="#ff30ff" stroke-width="1"/><circle cx="297.70" cy="501.42" r="1.3" fill="#ff30ff"/><text transform="translate(304.20,506.82) scale(1,1.2)" font-size="12.8">data3</text></g>
<g><line x1="445.17" y1="456.20" x2="445.17" y2="612.20" stroke="#a4a4a4" stroke-width="1.1" stroke-dasharray="1 1.2"/><line x1="486.80" y1="456.20" x2="486.80" y2="612.20" stroke="#a4a4a4" stroke-width="1.1" stroke-dasharray="1 1.2"/><line x1="516.34" y1="456.20" x2="516.34" y2="612.20" stroke="#a4a4a4" stroke-width="1.1" stroke-dasharray="1 1.2"/><line x1="539.26" y1="456.20" x2="539.26" y2="612.20" stroke="#a4a4a4" stroke-width="1.1" stroke-dasharray="1 1.2"/><line x1="557.98" y1="456.20" x2="557.98" y2="612.20" stroke="#a4a4a4" stroke-width="1.1" stroke-dasharray="1 1.2"/><line x1="573.80" y1="456.20" x2="573.80" y2="612.20" stroke="#a4a4a4" stroke-width="1.1" stroke-dasharray="1 1.2"/><line x1="587.52" y1="456.20" x2="587.52" y2="612.20" stroke="#a4a4a4" stroke-width="1.1" stroke-dasharray="1 1.2"/><line x1="599.61" y1="456.20" x2="599.61" y2="612.20" stroke="#a4a4a4" stroke-width="1.1" stroke-dasharray="1 1.2"/><line x1="610.43" y1="456.20" x2="610.43" y2="612.20" stroke="#a4a4a4" stroke-width="1.1" stroke-dasharray="1 1.2"/><line x1="681.60" y1="456.20" x2="681.60" y2="612.20" stroke="#d0d0d0" stroke-width="1.6"/><line x1="681.60" y1="456.20" x2="681.60" y2="612.20" stroke="#888" stroke-width="1" stroke-dasharray="1 1.4"/><line x1="374.00" y1="456.20" x2="681.60" y2="456.20" stroke="#bdbdbd" stroke-width="1.6"/><line x1="374.00" y1="456.20" x2="374.00" y2="612.20" stroke="#a8a8a8" stroke-width="1.4"/><line x1="374.00" y1="612.20" x2="681.60" y2="612.20" stroke="#a8a8a8" stroke-width="1.5"/><line x1="374.00" y1="586.20" x2="377.00" y2="586.20" stroke="#888" stroke-width="1"/><line x1="678.60" y1="586.20" x2="681.60" y2="586.20" stroke="#888" stroke-width="1"/><line x1="374.00" y1="560.20" x2="377.00" y2="560.20" stroke="#888" stroke-width="1"/><line x1="678.60" y1="560.20" x2="681.60" y2="560.20" stroke="#888" stroke-width="1"/><line x1="374.00" y1="534.20" x2="377.00" y2="534.20" stroke="#888" stroke-width="1"/><line x1="678.60" y1="534.20" x2="681.60" y2="534.20" stroke="#888" stroke-width="1"/><line x1="374.00" y1="508.20" x2="377.00" y2="508.20" stroke="#888" stroke-width="1"/><line x1="678.60" y1="508.20" x2="681.60" y2="508.20" stroke="#888" stroke-width="1"/><line x1="374.00" y1="482.20" x2="377.00" y2="482.20" stroke="#888" stroke-width="1"/><line x1="678.60" y1="482.20" x2="681.60" y2="482.20" stroke="#888" stroke-width="1"/><line x1="445.17" y1="456.20" x2="445.17" y2="458.70" stroke="#777" stroke-width="1"/><line x1="445.17" y1="609.70" x2="445.17" y2="612.20" stroke="#777" stroke-width="1"/><line x1="486.80" y1="456.20" x2="486.80" y2="458.70" stroke="#777" stroke-width="1"/><line x1="486.80" y1="609.70" x2="486.80" y2="612.20" stroke="#777" stroke-width="1"/><line x1="516.34" y1="456.20" x2="516.34" y2="458.70" stroke="#777" stroke-width="1"/><line x1="516.34" y1="609.70" x2="516.34" y2="612.20" stroke="#777" stroke-width="1"/><line x1="539.26" y1="456.20" x2="539.26" y2="458.70" stroke="#777" stroke-width="1"/><line x1="539.26" y1="609.70" x2="539.26" y2="612.20" stroke="#777" stroke-width="1"/><line x1="557.98" y1="456.20" x2="557.98" y2="458.70" stroke="#777" stroke-width="1"/><line x1="557.98" y1="609.70" x2="557.98" y2="612.20" stroke="#777" stroke-width="1"/><line x1="573.80" y1="456.20" x2="573.80" y2="458.70" stroke="#777" stroke-width="1"/><line x1="573.80" y1="609.70" x2="573.80" y2="612.20" stroke="#777" stroke-width="1"/><line x1="587.52" y1="456.20" x2="587.52" y2="458.70" stroke="#777" stroke-width="1"/><line x1="587.52" y1="609.70" x2="587.52" y2="612.20" stroke="#777" stroke-width="1"/><line x1="599.61" y1="456.20" x2="599.61" y2="458.70" stroke="#777" stroke-width="1"/><line x1="599.61" y1="609.70" x2="599.61" y2="612.20" stroke="#777" stroke-width="1"/><line x1="610.43" y1="456.20" x2="610.43" y2="458.70" stroke="#777" stroke-width="1"/><line x1="610.43" y1="609.70" x2="610.43" y2="612.20" stroke="#777" stroke-width="1"/><text transform="translate(372.80,591.78) scale(1,1.18)" font-size="13.2" text-anchor="end">50</text><text transform="translate(372.80,565.78) scale(1,1.18)" font-size="13.2" text-anchor="end">100</text><text transform="translate(372.80,539.78) scale(1,1.18)" font-size="13.2" text-anchor="end">150</text><text transform="translate(372.80,513.78) scale(1,1.18)" font-size="13.2" text-anchor="end">200</text><text transform="translate(372.80,487.78) scale(1,1.18)" font-size="13.2" text-anchor="end">250</text><text transform="translate(372.80,461.78) scale(1,1.18)" font-size="13.2" text-anchor="end">300</text><text transform="translate(364.70,630.50) scale(1,1.08)" font-size="13.3">10</text><text transform="translate(378.90,622.50) scale(1,1.0)" font-size="8.8">2</text><text transform="translate(601.13,630.50) scale(1,1.08)" font-size="13.3">10</text><text transform="translate(615.33,622.50) scale(1,1.0)" font-size="8.8">3</text><text transform="translate(515.70,644.10) scale(1,1.18)" font-size="13.2">f/Hz</text><text transform="translate(508.60,668.30) scale(1,1.0)" font-size="17.8" class="cap">(f)</text><path d="M529.00,611.30 L580.50,611.30" fill="none" stroke="#5050f0" stroke-width="1.5" stroke-linejoin="round" stroke-linecap="butt"/><circle cx="529.00" cy="611.30" r="1.4" fill="#5050f0"/><circle cx="580.50" cy="611.30" r="1.4" fill="#5050f0"/><path d="M589.90,611.50 L615.10,611.50" fill="none" stroke="#50f050" stroke-width="1.5" stroke-linejoin="round" stroke-linecap="butt"/><circle cx="615.10" cy="611.50" r="1.4" fill="#50f050"/><path d="M620.80,611.60 L681.60,611.60" fill="none" stroke="#f050f0" stroke-width="1.5" stroke-linejoin="round" stroke-linecap="butt"/><path d="M581.20,456.20 C581.27,466.83 581.42,501.03 581.60,520.00 C581.78,538.97 582.18,558.75 582.30,570.00 C582.42,581.25 582.30,582.68 582.30,587.50 C582.30,592.32 582.18,595.98 582.30,598.90 C582.42,601.82 582.72,603.40 583.00,605.00 C583.28,606.60 583.62,607.62 584.00,608.50 C584.38,609.38 585.08,610.00 585.30,610.30" fill="none" stroke="#0000ff" stroke-width="3.3" stroke-linejoin="round" stroke-linecap="butt"/><path d="M589.90,456.20 L589.90,612.20" fill="none" stroke="#00ee00" stroke-width="2.4" stroke-linejoin="round" stroke-linecap="butt"/><path d="M593.50,456.20 C593.65,466.83 594.08,501.03 594.40,520.00 C594.72,538.97 595.08,558.75 595.40,570.00 C595.72,581.25 595.93,583.12 596.30,587.50 C596.67,591.88 597.02,593.82 597.60,596.30 C598.18,598.78 598.85,600.80 599.80,602.40 C600.75,604.00 601.98,604.95 603.30,605.90 C604.62,606.85 606.25,607.45 607.70,608.10 C609.15,608.75 610.40,609.37 612.00,609.80 C613.60,610.23 615.83,610.47 617.30,610.70 C618.77,610.93 620.22,611.12 620.80,611.20" fill="none" stroke="#ff00ff" stroke-width="2.5" stroke-linejoin="round" stroke-linecap="butt"/><rect x="633.30" y="458.10" width="47.00" height="54.00" fill="#fff" stroke="#a0a0a0" stroke-width="1.1"/><line x1="635.30" y1="467.39" x2="645.90" y2="467.39" stroke="#3030ff" stroke-width="1"/><circle cx="640.60" cy="467.39" r="1.3" fill="#3030ff"/><text transform="translate(647.10,472.70) scale(1,1.18)" font-size="12.8">data1</text><line x1="635.30" y1="484.78" x2="645.90" y2="484.78" stroke="#30f030" stroke-width="1"/><circle cx="640.60" cy="484.78" r="1.3" fill="#30f030"/><text transform="translate(647.10,490.09) scale(1,1.18)" font-size="12.8">data2</text><line x1="635.30" y1="502.16" x2="645.90" y2="502.16" stroke="#ff30ff" stroke-width="1"/><circle cx="640.60" cy="502.16" r="1.3" fill="#ff30ff"/><text transform="translate(647.10,507.47) scale(1,1.18)" font-size="12.8">data3</text></g>
<g><line x1="96.44" y1="684.90" x2="96.44" y2="821.90" stroke="#a4a4a4" stroke-width="1.1" stroke-dasharray="1 1.2"/><line x1="138.52" y1="684.90" x2="138.52" y2="821.90" stroke="#a4a4a4" stroke-width="1.1" stroke-dasharray="1 1.2"/><line x1="168.37" y1="684.90" x2="168.37" y2="821.90" stroke="#a4a4a4" stroke-width="1.1" stroke-dasharray="1 1.2"/><line x1="191.53" y1="684.90" x2="191.53" y2="821.90" stroke="#a4a4a4" stroke-width="1.1" stroke-dasharray="1 1.2"/><line x1="210.45" y1="684.90" x2="210.45" y2="821.90" stroke="#a4a4a4" stroke-width="1.1" stroke-dasharray="1 1.2"/><line x1="226.45" y1="684.90" x2="226.45" y2="821.90" stroke="#a4a4a4" stroke-width="1.1" stroke-dasharray="1 1.2"/><line x1="240.31" y1="684.90" x2="240.31" y2="821.90" stroke="#a4a4a4" stroke-width="1.1" stroke-dasharray="1 1.2"/><line x1="252.53" y1="684.90" x2="252.53" y2="821.90" stroke="#a4a4a4" stroke-width="1.1" stroke-dasharray="1 1.2"/><line x1="263.46" y1="684.90" x2="263.46" y2="821.90" stroke="#a4a4a4" stroke-width="1.1" stroke-dasharray="1 1.2"/><line x1="335.40" y1="684.90" x2="335.40" y2="821.90" stroke="#b4b4b4" stroke-width="1.3"/><line x1="24.50" y1="684.90" x2="335.40" y2="684.90" stroke="#bdbdbd" stroke-width="1.6"/><line x1="24.50" y1="684.90" x2="24.50" y2="821.90" stroke="#a8a8a8" stroke-width="1.4"/><line x1="24.50" y1="821.90" x2="335.40" y2="821.90" stroke="#a8a8a8" stroke-width="1.5"/><line x1="24.50" y1="799.07" x2="27.50" y2="799.07" stroke="#888" stroke-width="1"/><line x1="332.40" y1="799.07" x2="335.40" y2="799.07" stroke="#888" stroke-width="1"/><line x1="24.50" y1="776.23" x2="27.50" y2="776.23" stroke="#888" stroke-width="1"/><line x1="332.40" y1="776.23" x2="335.40" y2="776.23" stroke="#888" stroke-width="1"/><line x1="24.50" y1="753.40" x2="27.50" y2="753.40" stroke="#888" stroke-width="1"/><line x1="332.40" y1="753.40" x2="335.40" y2="753.40" stroke="#888" stroke-width="1"/><line x1="24.50" y1="730.57" x2="27.50" y2="730.57" stroke="#888" stroke-width="1"/><line x1="332.40" y1="730.57" x2="335.40" y2="730.57" stroke="#888" stroke-width="1"/><line x1="24.50" y1="707.73" x2="27.50" y2="707.73" stroke="#888" stroke-width="1"/><line x1="332.40" y1="707.73" x2="335.40" y2="707.73" stroke="#888" stroke-width="1"/><line x1="96.44" y1="684.90" x2="96.44" y2="687.40" stroke="#777" stroke-width="1"/><line x1="96.44" y1="819.40" x2="96.44" y2="821.90" stroke="#777" stroke-width="1"/><line x1="138.52" y1="684.90" x2="138.52" y2="687.40" stroke="#777" stroke-width="1"/><line x1="138.52" y1="819.40" x2="138.52" y2="821.90" stroke="#777" stroke-width="1"/><line x1="168.37" y1="684.90" x2="168.37" y2="687.40" stroke="#777" stroke-width="1"/><line x1="168.37" y1="819.40" x2="168.37" y2="821.90" stroke="#777" stroke-width="1"/><line x1="191.53" y1="684.90" x2="191.53" y2="687.40" stroke="#777" stroke-width="1"/><line x1="191.53" y1="819.40" x2="191.53" y2="821.90" stroke="#777" stroke-width="1"/><line x1="210.45" y1="684.90" x2="210.45" y2="687.40" stroke="#777" stroke-width="1"/><line x1="210.45" y1="819.40" x2="210.45" y2="821.90" stroke="#777" stroke-width="1"/><line x1="226.45" y1="684.90" x2="226.45" y2="687.40" stroke="#777" stroke-width="1"/><line x1="226.45" y1="819.40" x2="226.45" y2="821.90" stroke="#777" stroke-width="1"/><line x1="240.31" y1="684.90" x2="240.31" y2="687.40" stroke="#777" stroke-width="1"/><line x1="240.31" y1="819.40" x2="240.31" y2="821.90" stroke="#777" stroke-width="1"/><line x1="252.53" y1="684.90" x2="252.53" y2="687.40" stroke="#777" stroke-width="1"/><line x1="252.53" y1="819.40" x2="252.53" y2="821.90" stroke="#777" stroke-width="1"/><line x1="263.46" y1="684.90" x2="263.46" y2="687.40" stroke="#777" stroke-width="1"/><line x1="263.46" y1="819.40" x2="263.46" y2="821.90" stroke="#777" stroke-width="1"/><text transform="translate(23.30,804.36) scale(1,1.12)" font-size="13.2" text-anchor="end">50</text><text transform="translate(23.30,781.53) scale(1,1.12)" font-size="13.2" text-anchor="end">100</text><text transform="translate(23.30,758.69) scale(1,1.12)" font-size="13.2" text-anchor="end">150</text><text transform="translate(23.30,735.86) scale(1,1.12)" font-size="13.2" text-anchor="end">200</text><text transform="translate(23.30,713.03) scale(1,1.12)" font-size="13.2" text-anchor="end">250</text><text transform="translate(23.30,690.19) scale(1,1.12)" font-size="13.2" text-anchor="end">300</text><text transform="translate(15.20,838.20) scale(1,1.08)" font-size="13.3">10</text><text transform="translate(29.40,830.20) scale(1,1.0)" font-size="8.8">2</text><text transform="translate(254.16,838.20) scale(1,1.08)" font-size="13.3">10</text><text transform="translate(268.36,830.20) scale(1,1.0)" font-size="8.8">3</text><text transform="translate(167.60,850.60) scale(1,1.12)" font-size="13.2">f/Hz</text><text transform="translate(153.60,874.60) scale(1,1.0)" font-size="17.8" class="cap">(g)</text><path d="M125.50,821.10 L186.00,820.70" fill="none" stroke="#5050f0" stroke-width="1.2" stroke-linejoin="round" stroke-linecap="butt"/><circle cx="125.50" cy="821.10" r="1.4" fill="#5050f0"/><circle cx="186.00" cy="820.70" r="1.4" fill="#5050f0"/><path d="M242.50,821.40 L268.40,821.40" fill="none" stroke="#50f050" stroke-width="1.5" stroke-linejoin="round" stroke-linecap="butt"/><circle cx="268.40" cy="821.40" r="1.4" fill="#50f050"/><path d="M294.00,821.40 L335.40,821.40" fill="none" stroke="#f050f0" stroke-width="1.5" stroke-linejoin="round" stroke-linecap="butt"/><path d="M200.00,819.80 L193.00,820.30 L186.00,820.70" fill="none" stroke="#0000ff" stroke-width="2.2" stroke-linejoin="round" stroke-linecap="butt"/><circle cx="200.00" cy="819.80" r="1.4" fill="#0000ff"/><circle cx="193.00" cy="820.30" r="1.4" fill="#0000ff"/><circle cx="186.00" cy="820.70" r="1.4" fill="#0000ff"/><path d="M237.00,684.90 C236.93,697.42 236.70,744.15 236.60,760.00 C236.50,775.85 236.48,775.45 236.40,780.00 C236.32,784.55 236.23,784.87 236.10,787.30 C235.97,789.73 235.80,792.17 235.60,794.60 C235.40,797.03 235.23,799.95 234.90,801.90 C234.57,803.85 234.18,804.83 233.60,806.30 C233.02,807.77 232.25,809.55 231.40,810.70 C230.55,811.85 229.72,812.48 228.50,813.20 C227.28,813.92 225.68,814.47 224.10,815.00 C222.52,815.53 220.83,815.97 219.00,816.40 C217.17,816.83 215.05,817.22 213.10,817.60 C211.15,817.98 209.48,818.33 207.30,818.70 C205.12,819.07 201.22,819.62 200.00,819.80" fill="none" stroke="#0000ff" stroke-width="3.6" stroke-linejoin="round" stroke-linecap="butt"/><path d="M242.50,684.90 L242.50,821.90" fill="none" stroke="#00ee00" stroke-width="2.6" stroke-linejoin="round" stroke-linecap="butt"/><path d="M245.40,684.90 C245.42,697.42 245.47,744.15 245.50,760.00 C245.53,775.85 245.42,774.17 245.60,780.00 C245.78,785.83 246.30,791.35 246.60,795.00 C246.90,798.65 246.90,799.48 247.40,801.90 C247.90,804.32 248.78,807.68 249.60,809.50 C250.42,811.32 251.15,811.85 252.30,812.80 C253.45,813.75 254.90,814.58 256.50,815.20 C258.10,815.82 261.00,816.28 261.90,816.50" fill="none" stroke="#ff00ff" stroke-width="2.5" stroke-linejoin="round" stroke-linecap="butt"/><path d="M261.90,816.50 L269.00,817.60 L276.50,818.70 L284.00,819.70 L291.10,820.60 L294.00,821.30" fill="none" stroke="#ff00ff" stroke-width="1.1" stroke-linejoin="round" stroke-linecap="butt"/><circle cx="261.90" cy="816.50" r="1.3" fill="#ff00ff"/><circle cx="269.00" cy="817.60" r="1.3" fill="#ff00ff"/><circle cx="276.50" cy="818.70" r="1.3" fill="#ff00ff"/><circle cx="284.00" cy="819.70" r="1.3" fill="#ff00ff"/><circle cx="291.10" cy="820.60" r="1.3" fill="#ff00ff"/><circle cx="294.00" cy="821.30" r="1.3" fill="#ff00ff"/><rect x="285.40" y="686.40" width="48.70" height="47.90" fill="#fff" stroke="#a0a0a0" stroke-width="1.1"/><line x1="287.40" y1="694.64" x2="298.00" y2="694.64" stroke="#3030ff" stroke-width="1"/><circle cx="292.70" cy="694.64" r="1.3" fill="#3030ff"/><text transform="translate(299.20,699.68) scale(1,1.12)" font-size="12.8">data1</text><line x1="287.40" y1="710.06" x2="298.00" y2="710.06" stroke="#30f030" stroke-width="1"/><circle cx="292.70" cy="710.06" r="1.3" fill="#30f030"/><text transform="translate(299.20,715.10) scale(1,1.12)" font-size="12.8">data2</text><line x1="287.40" y1="725.49" x2="298.00" y2="725.49" stroke="#ff30ff" stroke-width="1"/><circle cx="292.70" cy="725.49" r="1.3" fill="#ff30ff"/><text transform="translate(299.20,730.53) scale(1,1.12)" font-size="12.8">data3</text></g>
<g><line x1="441.38" y1="685.60" x2="441.38" y2="822.10" stroke="#a4a4a4" stroke-width="1.1" stroke-dasharray="1 1.2"/><line x1="483.31" y1="685.60" x2="483.31" y2="822.10" stroke="#a4a4a4" stroke-width="1.1" stroke-dasharray="1 1.2"/><line x1="513.06" y1="685.60" x2="513.06" y2="822.10" stroke="#a4a4a4" stroke-width="1.1" stroke-dasharray="1 1.2"/><line x1="536.14" y1="685.60" x2="536.14" y2="822.10" stroke="#a4a4a4" stroke-width="1.1" stroke-dasharray="1 1.2"/><line x1="554.99" y1="685.60" x2="554.99" y2="822.10" stroke="#a4a4a4" stroke-width="1.1" stroke-dasharray="1 1.2"/><line x1="570.93" y1="685.60" x2="570.93" y2="822.10" stroke="#a4a4a4" stroke-width="1.1" stroke-dasharray="1 1.2"/><line x1="584.74" y1="685.60" x2="584.74" y2="822.10" stroke="#a4a4a4" stroke-width="1.1" stroke-dasharray="1 1.2"/><line x1="596.92" y1="685.60" x2="596.92" y2="822.10" stroke="#a4a4a4" stroke-width="1.1" stroke-dasharray="1 1.2"/><line x1="607.82" y1="685.60" x2="607.82" y2="822.10" stroke="#a4a4a4" stroke-width="1.1" stroke-dasharray="1 1.2"/><line x1="679.50" y1="685.60" x2="679.50" y2="822.10" stroke="#b4b4b4" stroke-width="1.3"/><line x1="369.70" y1="685.60" x2="679.50" y2="685.60" stroke="#bdbdbd" stroke-width="1.6"/><line x1="369.70" y1="685.60" x2="369.70" y2="822.10" stroke="#a8a8a8" stroke-width="1.4"/><line x1="369.70" y1="822.10" x2="679.50" y2="822.10" stroke="#a8a8a8" stroke-width="1.5"/><line x1="369.70" y1="799.35" x2="372.70" y2="799.35" stroke="#888" stroke-width="1"/><line x1="676.50" y1="799.35" x2="679.50" y2="799.35" stroke="#888" stroke-width="1"/><line x1="369.70" y1="776.60" x2="372.70" y2="776.60" stroke="#888" stroke-width="1"/><line x1="676.50" y1="776.60" x2="679.50" y2="776.60" stroke="#888" stroke-width="1"/><line x1="369.70" y1="753.85" x2="372.70" y2="753.85" stroke="#888" stroke-width="1"/><line x1="676.50" y1="753.85" x2="679.50" y2="753.85" stroke="#888" stroke-width="1"/><line x1="369.70" y1="731.10" x2="372.70" y2="731.10" stroke="#888" stroke-width="1"/><line x1="676.50" y1="731.10" x2="679.50" y2="731.10" stroke="#888" stroke-width="1"/><line x1="369.70" y1="708.35" x2="372.70" y2="708.35" stroke="#888" stroke-width="1"/><line x1="676.50" y1="708.35" x2="679.50" y2="708.35" stroke="#888" stroke-width="1"/><line x1="441.38" y1="685.60" x2="441.38" y2="688.10" stroke="#777" stroke-width="1"/><line x1="441.38" y1="819.60" x2="441.38" y2="822.10" stroke="#777" stroke-width="1"/><line x1="483.31" y1="685.60" x2="483.31" y2="688.10" stroke="#777" stroke-width="1"/><line x1="483.31" y1="819.60" x2="483.31" y2="822.10" stroke="#777" stroke-width="1"/><line x1="513.06" y1="685.60" x2="513.06" y2="688.10" stroke="#777" stroke-width="1"/><line x1="513.06" y1="819.60" x2="513.06" y2="822.10" stroke="#777" stroke-width="1"/><line x1="536.14" y1="685.60" x2="536.14" y2="688.10" stroke="#777" stroke-width="1"/><line x1="536.14" y1="819.60" x2="536.14" y2="822.10" stroke="#777" stroke-width="1"/><line x1="554.99" y1="685.60" x2="554.99" y2="688.10" stroke="#777" stroke-width="1"/><line x1="554.99" y1="819.60" x2="554.99" y2="822.10" stroke="#777" stroke-width="1"/><line x1="570.93" y1="685.60" x2="570.93" y2="688.10" stroke="#777" stroke-width="1"/><line x1="570.93" y1="819.60" x2="570.93" y2="822.10" stroke="#777" stroke-width="1"/><line x1="584.74" y1="685.60" x2="584.74" y2="688.10" stroke="#777" stroke-width="1"/><line x1="584.74" y1="819.60" x2="584.74" y2="822.10" stroke="#777" stroke-width="1"/><line x1="596.92" y1="685.60" x2="596.92" y2="688.10" stroke="#777" stroke-width="1"/><line x1="596.92" y1="819.60" x2="596.92" y2="822.10" stroke="#777" stroke-width="1"/><line x1="607.82" y1="685.60" x2="607.82" y2="688.10" stroke="#777" stroke-width="1"/><line x1="607.82" y1="819.60" x2="607.82" y2="822.10" stroke="#777" stroke-width="1"/><text transform="translate(368.50,804.64) scale(1,1.12)" font-size="13.2" text-anchor="end">50</text><text transform="translate(368.50,781.89) scale(1,1.12)" font-size="13.2" text-anchor="end">100</text><text transform="translate(368.50,759.14) scale(1,1.12)" font-size="13.2" text-anchor="end">150</text><text transform="translate(368.50,736.39) scale(1,1.12)" font-size="13.2" text-anchor="end">200</text><text transform="translate(368.50,713.64) scale(1,1.12)" font-size="13.2" text-anchor="end">250</text><text transform="translate(368.50,690.89) scale(1,1.12)" font-size="13.2" text-anchor="end">300</text><text transform="translate(360.40,838.20) scale(1,1.08)" font-size="13.3">10</text><text transform="translate(374.60,830.20) scale(1,1.0)" font-size="8.8">2</text><text transform="translate(598.52,838.20) scale(1,1.08)" font-size="13.3">10</text><text transform="translate(612.72,830.20) scale(1,1.0)" font-size="8.8">3</text><text transform="translate(512.10,850.60) scale(1,1.12)" font-size="13.2">f/Hz</text><text transform="translate(511.90,874.60) scale(1,1.0)" font-size="17.8" class="cap">(h)</text><path d="M398.00,821.30 L445.60,820.90" fill="none" stroke="#5050f0" stroke-width="1.2" stroke-linejoin="round" stroke-linecap="butt"/><circle cx="398.00" cy="821.30" r="1.4" fill="#5050f0"/><circle cx="445.60" cy="820.90" r="1.4" fill="#5050f0"/><path d="M586.60,821.50 L612.20,821.50" fill="none" stroke="#50f050" stroke-width="1.5" stroke-linejoin="round" stroke-linecap="butt"/><circle cx="612.20" cy="821.50" r="1.4" fill="#50f050"/><path d="M652.00,821.50 L679.50,821.50" fill="none" stroke="#f050f0" stroke-width="1.5" stroke-linejoin="round" stroke-linecap="butt"/><path d="M445.60,820.90 L456.10,820.20" fill="none" stroke="#0000ff" stroke-width="2.0" stroke-linejoin="round" stroke-linecap="butt"/><circle cx="445.60" cy="820.90" r="1.4" fill="#0000ff"/><circle cx="456.10" cy="820.20" r="1.4" fill="#0000ff"/><path d="M456.10,820.20 L472.10,817.50 L488.20,814.30 L504.20,811.50 L520.30,809.10 L536.40,806.20 L545.00,804.60" fill="none" stroke="#0000ff" stroke-width="2.1" stroke-linejoin="round" stroke-linecap="butt"/><path d="M583.20,685.60 C583.13,694.67 582.90,726.77 582.80,740.00 C582.70,753.23 582.70,759.00 582.60,765.00 C582.50,771.00 582.38,772.60 582.20,776.00 C582.02,779.40 581.87,782.98 581.50,785.40 C581.13,787.82 580.67,789.03 580.00,790.50 C579.33,791.97 578.47,793.22 577.50,794.20 C576.53,795.18 575.48,795.73 574.20,796.40 C572.92,797.07 571.50,797.62 569.80,798.20 C568.10,798.78 564.97,799.62 564.00,799.90" fill="none" stroke="#0000ff" stroke-width="3.1" stroke-linejoin="round" stroke-linecap="butt"/><path d="M569.80,798.20 C568.83,798.48 566.18,799.28 564.00,799.90 C561.82,800.52 559.13,801.27 556.70,801.90 C554.27,802.53 551.35,803.25 549.40,803.70 C547.45,804.15 545.73,804.45 545.00,804.60" fill="none" stroke="#0000ff" stroke-width="2.4" stroke-linejoin="round" stroke-linecap="butt"/><path d="M586.60,685.60 L586.60,822.10" fill="none" stroke="#00ee00" stroke-width="2.6" stroke-linejoin="round" stroke-linecap="butt"/><path d="M589.20,685.60 C589.25,698.83 589.38,746.90 589.50,765.00 C589.62,783.10 589.65,788.28 589.90,794.20 C590.15,800.12 590.48,798.78 591.00,800.50 C591.52,802.22 592.08,803.42 593.00,804.50 C593.92,805.58 595.27,806.35 596.50,807.00 C597.73,807.65 598.98,808.00 600.40,808.40 C601.82,808.80 603.28,809.07 605.00,809.40 C606.72,809.73 609.75,810.23 610.70,810.40" fill="none" stroke="#ff00ff" stroke-width="2.5" stroke-linejoin="round" stroke-linecap="butt"/><path d="M610.70,810.40 L618.00,812.00 L626.00,813.70 L633.60,815.50 L641.30,817.40 L647.00,819.20 L652.00,821.00 L658.20,821.40" fill="none" stroke="#ff00ff" stroke-width="1.1" stroke-linejoin="round" stroke-linecap="butt"/><circle cx="610.70" cy="810.40" r="1.3" fill="#ff00ff"/><circle cx="618.00" cy="812.00" r="1.3" fill="#ff00ff"/><circle cx="622.00" cy="812.85" r="1.3" fill="#ff00ff"/><circle cx="626.00" cy="813.70" r="1.3" fill="#ff00ff"/><circle cx="629.80" cy="814.60" r="1.3" fill="#ff00ff"/><circle cx="633.60" cy="815.50" r="1.3" fill="#ff00ff"/><circle cx="637.45" cy="816.45" r="1.3" fill="#ff00ff"/><circle cx="641.30" cy="817.40" r="1.3" fill="#ff00ff"/><circle cx="647.00" cy="819.20" r="1.3" fill="#ff00ff"/><circle cx="652.00" cy="821.00" r="1.3" fill="#ff00ff"/><circle cx="658.20" cy="821.40" r="1.3" fill="#ff00ff"/><rect x="629.60" y="687.10" width="48.30" height="47.50" fill="#fff" stroke="#a0a0a0" stroke-width="1.1"/><line x1="631.60" y1="695.27" x2="642.20" y2="695.27" stroke="#3030ff" stroke-width="1"/><circle cx="636.90" cy="695.27" r="1.3" fill="#3030ff"/><text transform="translate(643.40,700.31) scale(1,1.12)" font-size="12.8">data1</text><line x1="631.60" y1="710.57" x2="642.20" y2="710.57" stroke="#30f030" stroke-width="1"/><circle cx="636.90" cy="710.57" r="1.3" fill="#30f030"/><text transform="translate(643.40,715.61) scale(1,1.12)" font-size="12.8">data2</text><line x1="631.60" y1="725.86" x2="642.20" y2="725.86" stroke="#ff30ff" stroke-width="1"/><circle cx="636.90" cy="725.86" r="1.3" fill="#ff30ff"/><text transform="translate(643.40,730.90) scale(1,1.12)" font-size="12.8">data3</text></g>
</svg></body></html>
